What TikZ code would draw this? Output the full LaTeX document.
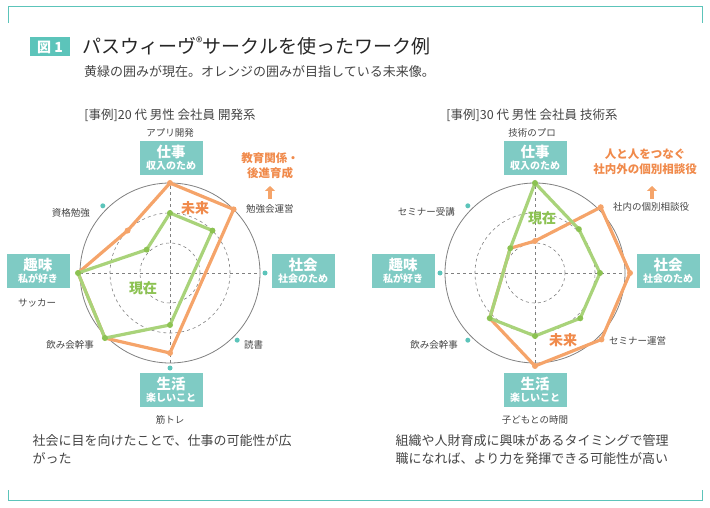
\documentclass[tikz,border=0pt]{standalone}
\usepackage{fontspec}
\setmainfont{Noto Sans CJK JP}
\usetikzlibrary{calc,arrows.meta}
\definecolor{teal}{HTML}{7FCBC4}
\definecolor{tealline}{HTML}{5CC4BA}
\definecolor{orng}{HTML}{F5A46A}
\definecolor{orngtxt}{HTML}{F08A4B}
\definecolor{grn}{HTML}{A9D37A}
\definecolor{grntxt}{HTML}{8CC252}
\definecolor{txt}{HTML}{444444}
\tikzset{
  cat/.style={fill=teal,text=white,inner sep=0pt,minimum width=63pt,minimum height=34pt,align=center,font=\bfseries},
  lbl/.style={text=txt,font=\fontsize{9.5}{11}\selectfont,inner sep=1pt},
  orngline/.style={draw=orng,line width=3.2pt,line join=round},
  grnline/.style={draw=grn,line width=3.2pt,line join=round},
  odot/.style={circle,fill=orng,inner sep=0pt,minimum size=6pt},
  gdot/.style={circle,fill=grntxt,inner sep=0pt,minimum size=6pt},
  cdot/.style={circle,fill=tealline,inner sep=0pt,minimum size=5pt},
  grid/.style={draw=gray,dashed,line width=0.6pt},
  big/.style={font=\fontsize{14}{16}\selectfont\bfseries},
  head/.style={font=\fontsize{12.5}{14}\selectfont,text=txt},
  ann/.style={font=\fontsize{11.5}{15}\selectfont\bfseries,text=orngtxt,align=center},
  comment/.style={font=\fontsize{13}{18}\selectfont,text=txt,anchor=north west,align=left},
}
\newcommand{\catbox}[2]{{\fontsize{14.5}{15}\selectfont #1}\\{\fontsize{10}{12}\selectfont #2}}
\begin{document}
\begin{tikzpicture}[x=1pt,y=1pt]
\useasboundingbox (0,0) rectangle (710,-508);
% frame
\draw[tealline,line width=1pt] (8,-23) -- (8,-7) -- (702,-7) -- (702,-23);
\draw[tealline,line width=1pt] (8,-490) -- (8,-500) -- (702,-500) -- (702,-490);
% title
\node[fill=tealline,text=white,font=\fontsize{14}{15}\selectfont\bfseries,inner sep=0pt,minimum height=19pt,minimum width=40pt] (fig) at (50,-47) {図 1};
\node[anchor=west,font=\fontsize{19}{21}\selectfont,text=black!85,inner sep=0pt] (title) at (82,-46) {パスウィーヴ\textsuperscript{®}サークルを使ったワーク例};
\node[anchor=west,font=\fontsize{13}{15}\selectfont,text=txt,inner sep=0pt] (sub) at (84,-72) {黄緑の囲みが現在。オレンジの囲みが目指している未来像。};

% ===== left chart =====
\begin{scope}[shift={(170,-273)}]
\draw[gray,line width=0.8pt] (0,0) circle (90);
\draw[grid] (0,0) circle (60);
\draw[grid] (0,0) circle (30);
\draw[grid] (0,-90) -- (0,90);
\draw[grid] (-90,0) -- (90,0);
\coordinate (LN) at (90:90); \coordinate (LNE) at (45:90);
\coordinate (LS) at (-90:80); \coordinate (LSW) at (-135:92);
\coordinate (LW) at (180:92); \coordinate (LNW) at (135:60);
\draw[orngline] (LN) -- (LNE) -- (LS) -- (LSW) -- (LW) -- (LNW) -- cycle;
\coordinate (lN) at (90:60); \coordinate (lNE) at (45:60);
\coordinate (lS) at (-90:52); \coordinate (lNW) at (135:33);
\draw[grnline] (lN) -- (lNE) -- (lS) -- (LSW) -- (LW) -- (lNW) -- cycle;
\foreach \p in {LN,LNE,LS,LNW} \node[odot] at (\p) {};
\foreach \p in {lN,lNE,lS,lNW,LSW,LW} \node[gdot] at (\p) {};
\foreach \a in {135,0,-45,-90} \node[cdot] at (\a:95) {};
\node[big,text=orngtxt] (lfut) at (25,65) {未来};
\node[big,text=grntxt] (lnow) at (-27,-15) {現在};
\end{scope}
\node[head] (head1) at (170,-115) {[事例]20 代 男性 会社員 開発系};
\node[lbl] (l1) at (170,-133) {アプリ開発};
\node[cat] (lwork) at (171,-158) {\catbox{仕事}{収入のため}};
\node[cat] (lsoc) at (303,-271) {\catbox{社会}{社会のため}};
\node[cat] (lhob) at (38,-271) {\catbox{趣味}{私が好き}};
\node[cat] (llife) at (171,-390) {\catbox{生活}{楽しいこと}};
\node[lbl,anchor=west] (l2) at (245,-209) {勉強会運営};
\node[lbl,anchor=west] (l3) at (243,-345) {読書};
\node[lbl] (l4) at (170,-420) {筋トレ};
\node[lbl,anchor=east] (l5) at (95,-345) {飲み会幹事};
\node[lbl] (l6) at (37,-303) {サッカー};
\node[lbl,anchor=east] (l7) at (91,-213) {資格勉強};
\node[ann] (lann) at (270,-166) {教育関係・\\後進育成};
\draw[orng,line width=4pt,-{Triangle[length=5pt,width=10pt]}] (270,-199) -- (270,-186);
\node[comment] (lcom) at (29,-431) {社会に目を向けたことで、仕事の可能性が広\\がった};

% ===== right chart =====
\begin{scope}[shift={(535,-273)}]
\draw[gray,line width=0.8pt] (0,0) circle (90);
\draw[grid] (0,0) circle (60);
\draw[grid] (0,0) circle (30);
\draw[grid] (0,-90) -- (0,90);
\draw[grid] (-90,0) -- (90,0);
\coordinate (RN) at (90:32); \coordinate (RNE) at (45:93);
\coordinate (RE) at (0:95); \coordinate (RSE) at (-45:94);
\coordinate (RS) at (-90:93); \coordinate (RSW) at (-135:64);
\coordinate (RNW) at (135:35);
\draw[orngline] (RN) -- (RNE) -- (RE) -- (RSE) -- (RS) -- (RSW) -- (RNW) -- cycle;
\coordinate (rN) at (90:90); \coordinate (rNE) at (45:62);
\coordinate (rE) at (0:65); \coordinate (rSE) at (-45:64);
\coordinate (rS) at (-90:63);
\draw[grnline] (rN) -- (rNE) -- (rE) -- (rSE) -- (rS) -- (RSW) -- (RNW) -- cycle;
\foreach \p in {RN,RNE,RE,RSE,RS} \node[odot] at (\p) {};
\foreach \p in {rN,rNE,rE,rSE,rS,RSW,RNW} \node[gdot] at (\p) {};
\foreach \a in {135,180,-135} \node[cdot] at (\a:95) {};
\node[big,text=grntxt] (rnow) at (7,55) {現在};
\node[big,text=orngtxt] (rfut) at (28,-67) {未来};
\end{scope}
\node[head] (head2) at (532,-115) {[事例]30 代 男性 会社員 技術系};
\node[lbl] (r1) at (532,-133) {技術のプロ};
\node[cat] (rwork) at (535,-158) {\catbox{仕事}{収入のため}};
\node[cat] (rsoc) at (668,-271) {\catbox{社会}{社会のため}};
\node[cat] (rhob) at (403,-271) {\catbox{趣味}{私が好き}};
\node[cat] (rlife) at (535,-390) {\catbox{生活}{楽しいこと}};
\node[lbl,anchor=west] (r2) at (612,-207) {社内の個別相談役};
\node[lbl,anchor=west] (r3) at (608,-341) {セミナー運営};
\node[lbl] (r4) at (535,-420) {子どもとの時間};
\node[lbl,anchor=east] (r5) at (459,-345) {飲み会幹事};
\node[lbl,anchor=east] (r6) at (456,-212) {セミナー受講};
\node[ann] (rann) at (645,-162) {人と人をつなぐ\\社内外の個別相談役};
\draw[orng,line width=4pt,-{Triangle[length=5pt,width=10pt]}] (652,-199) -- (652,-186);
\node[comment] (rcom) at (392,-431) {組織や人財育成に興味があるタイミングで管理\\職になれば、より力を発揮できる可能性が高い};
\end{tikzpicture}
\end{document}
